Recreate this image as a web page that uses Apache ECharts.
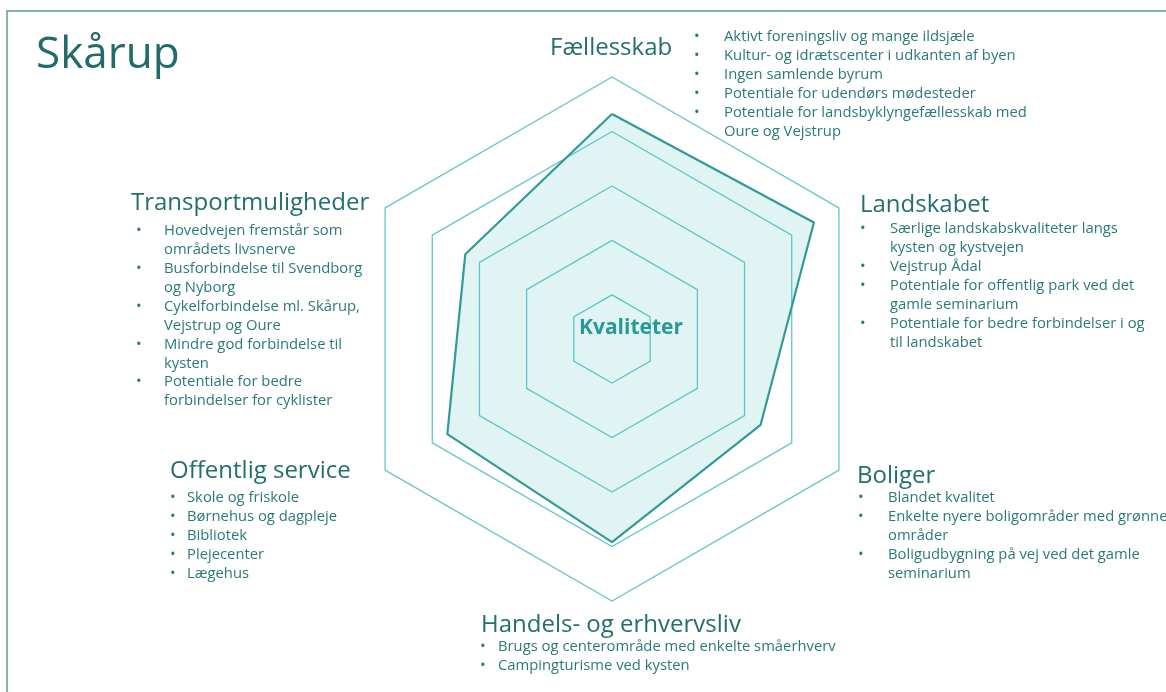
<!DOCTYPE html>
<html><head><meta charset="utf-8">
<script src="https://cdn.jsdelivr.net/npm/echarts@6/dist/echarts.min.js"></script>
<style>html,body{margin:0;padding:0;background:#fff}#c{width:1166px;height:692px}</style>
</head><body><div id="c"></div><script>
// ---- data ----
const title = 'Skårup';
const centerLabel = 'Kvaliteter';
const categories = ['Fællesskab', 'Transportmuligheder', 'Offentlig service', 'Handels- og erhvervsliv', 'Boliger', 'Landskabet'];
const values = [4.32, 3.30, 3.68, 3.92, 3.34, 4.47];
const ringValues = [1, 2, 3, 4, 5];
const axisMin = 0.19, axisMax = 5;

const notesFaellesskab = [
  ['Aktivt foreningsliv og mange ildsjæle'],
  ['Kultur- og idrætscenter i udkanten af byen'],
  ['Ingen samlende byrum'],
  ['Potentiale for udendørs mødesteder'],
  ['Potentiale for landsbyklyngefællesskab med', 'Oure og Vejstrup']
];
const notesTransport = [
  ['Hovedvejen fremstår som', 'områdets livsnerve'],
  ['Busforbindelse til Svendborg', 'og Nyborg'],
  ['Cykelforbindelse ml. Skårup,', 'Vejstrup og Oure'],
  ['Mindre god forbindelse til', 'kysten'],
  ['Potentiale for bedre', 'forbindelser for cyklister']
];
const notesOffentlig = [
  ['Skole og friskole'],
  ['Børnehus og dagpleje'],
  ['Bibliotek'],
  ['Plejecenter'],
  ['Lægehus']
];
const notesHandel = [
  ['Brugs og centerområde med enkelte småerhverv'],
  ['Campingturisme ved kysten']
];
const notesBoliger = [
  ['Blandet kvalitet'],
  ['Enkelte nyere boligområder med grønne', 'områder'],
  ['Boligudbygning på vej ved det gamle', 'seminarium']
];
const notesLandskab = [
  ['Særlige landskabskvaliteter langs', 'kysten og kystvejen'],
  ['Vejstrup Ådal'],
  ['Potentiale for offentlig park ved det', 'gamle seminarium'],
  ['Potentiale for bedre forbindelser i og', 'til landskabet']
];
const notesList = [notesFaellesskab, notesTransport, notesOffentlig, notesHandel, notesBoliger, notesLandskab];

// ---- layout (positions & styles) ----
const cx = 612, cy = 339, R = 262;
const FONT = '"Open Sans", "Noto Sans", sans-serif';
const headerColor = '#226f6d', textColor = '#2a7a78';
const layout = [
  {hx: 550, hy: 48, bx: 694, tx: 724, ty: 37},
  {hx: 131, hy: 203, bx: 136, tx: 164, ty: 231},
  {hx: 170, hy: 471, bx: 170, tx: 187, ty: 498},
  {hx: 481, hy: 625, bx: 480, tx: 498, ty: 647},
  {hx: 857, hy: 476, bx: 858, tx: 888, ty: 498},
  {hx: 860, hy: 205, bx: 860, tx: 890, ty: 229}
];
const LH = 18.9;

const indicator = categories.map(n => ({name: n, min: axisMin, max: axisMax}));
const radars = ringValues.map(v => ({
  center: [cx, cy],
  radius: R * (v - axisMin) / (axisMax - axisMin),
  startAngle: 90,
  splitNumber: 1,
  shape: 'polygon',
  indicator: indicator,
  axisName: {show: false},
  axisLine: {show: false},
  axisTick: {show: false},
  axisLabel: {show: false},
  splitArea: {show: false},
  splitLine: {lineStyle: {color: '#62c6c7', width: 1.3}}
}));

const graphics = [
  {type: 'rect', shape: {x: 7, y: 11, width: 1200, height: 720}, style: {fill: 'none', stroke: '#5f9c9a', lineWidth: 1.5}, z: 1},
  {type: 'text', x: 36, y: 55, style: {text: title, font: '44px ' + FONT, fill: '#216c6a', verticalAlign: 'middle'}, z: 10},
  {type: 'text', x: 631, y: 328, style: {text: centerLabel, font: 'bold 21px ' + FONT, fill: '#2a9896', align: 'center', verticalAlign: 'middle'}, z: 10}
];
categories.forEach((cat, i) => {
  const L = layout[i];
  graphics.push({type: 'text', x: L.hx, y: L.hy, style: {text: cat, font: '24px ' + FONT, fill: headerColor, verticalAlign: 'middle'}, z: 10});
  const lines = [], bullets = [];
  notesList[i].forEach(item => item.forEach((ln, j) => { lines.push(ln); bullets.push(j === 0 ? '•' : ''); }));
  graphics.push({type: 'text', x: L.tx, y: L.ty - LH / 2, style: {text: lines.join('\n'), font: '14.8px ' + FONT, fill: textColor, lineHeight: LH, verticalAlign: 'top'}, z: 10});
  graphics.push({type: 'text', x: L.bx, y: L.ty - LH / 2, style: {text: bullets.join('\n'), font: '15px ' + FONT, fill: textColor, lineHeight: LH, verticalAlign: 'top'}, z: 10});
});

const chart = echarts.init(document.getElementById('c'), null, {renderer: 'canvas'});
chart.setOption({
  animation: false,
  backgroundColor: '#ffffff',
  radar: radars,
  series: [{
    type: 'radar',
    radarIndex: ringValues.length - 1,
    symbol: 'none',
    data: [{value: values, name: centerLabel}],
    lineStyle: {color: '#2e9694', width: 2.2},
    areaStyle: {color: 'rgba(92,194,194,0.27)'}
  }],
  graphic: graphics
});
</script></body></html>
